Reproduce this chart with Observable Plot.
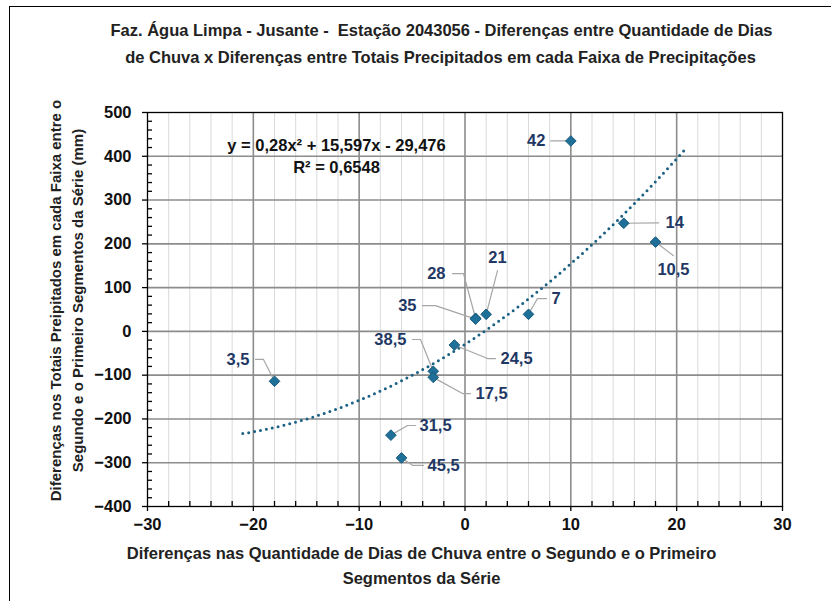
<!DOCTYPE html>
<html><head><meta charset="utf-8">
<script src="https://cdn.jsdelivr.net/npm/d3@7"></script>
<script src="https://cdn.jsdelivr.net/npm/@observablehq/plot@0.6"></script>
<style>
html,body{margin:0;padding:0;background:#fff;overflow:hidden;width:831px;height:601px}
#wrap{position:relative;width:831px;height:601px;overflow:hidden}
#border{position:absolute;left:9px;top:6px;width:900px;height:700px;border:1.5px solid #000;box-sizing:border-box}
#chart{position:absolute;left:0;top:0}
</style></head><body><div id="wrap"><div id="border"></div><div id="chart"></div></div>
<script>
// ---- data ----
const xDiff  = [10, 15, 18, 6, 2, 1, 1, -1, -3, -3, -18, -7, -6];
const yDiff  = [435, 247, 204, 39, 39, 30, 28, -31, -91, -105, -114, -237, -289];
const labels = ["42", "14", "10,5", "7", "21", "28", "35", "24,5", "38,5", "17,5", "3,5", "31,5", "45,5"];
// label placement (data units) and leader bends
const labelX = [7.6, 18.95, 19.7, 8.17, 3.07, -1.84, -4.58, 3.35, -5.53, 0.99, -20.36, -4.3, -3.54];
const labelY = [436, 249, 141, 75, 169, 132, 59, -62, -18.5, -142, -64, -215, -306];
const labelAnchor = ["end", "start", "middle", "start", "middle", "end", "end", "start", "end", "start", "end", "start", "start"];
const leaderBends = [
  [[8.1, 435]],
  [[18.3, 248]],
  [[19.7, 173]],
  [[7.7, 75], [6.85, 75]],
  [[3.07, 139]],
  [[-1.18, 132], [-0.14, 132]],
  [[-4.02, 59], [-2.79, 59]],
  [[2.88, -62], [2.13, -62]],
  [[-4.96, -18.5], [-4.2, -18.5]],
  [[0.52, -142], [-0.24, -142]],
  [[-19.8, -64], [-19.04, -64]],
  [[-4.68, -215], [-5.43, -215]],
  [[-3.92, -306], [-4.96, -306]]
];
// trendline (Excel polynomial order 2), as printed on the chart
const trendCoef = [0.28, 15.597, -29.476];
const trendRange = [-21, 20.8];
const xTicks = [-30, -20, -10, 0, 10, 20, 30];
const yTicks = [-400, -300, -200, -100, 0, 100, 200, 300, 400, 500];
const titleLines = ["Faz. Água Limpa - Jusante -  Estação 2043056 - Diferenças entre Quantidade de Dias",
                    "de Chuva x Diferenças entre Totais Precipitados em cada Faixa de Precipitações"];
const xTitleLines = ["Diferenças nas Quantidade de Dias de Chuva entre o Segundo e o Primeiro", "Segmentos da Série"];
const yTitleLines = ["Diferenças nos Totais Preipitados em cada Faixa entre o", "Segundo e o Primeiro Segmentos da Série (mm)"];
const eqLines = ["y = 0,28x² + 15,597x - 29,476", "R² = 0,6548"];

// ---- derived tables ----
const pts = xDiff.map((x, i) => ({x, y: yDiff[i], label: labels[i], lx: labelX[i], ly: labelY[i], anchor: labelAnchor[i]}));
const leaders = [];
pts.forEach((p, i) => {
  leaderBends[i].forEach(([x, y]) => leaders.push({x, y, k: i}));
  leaders.push({x: p.x, y: p.y, k: i});
});
const trend = d3.range(trendRange[0], trendRange[1] + 1e-9, 0.1).map(x => ({x, y: trendCoef[0]*x*x + trendCoef[1]*x + trendCoef[2]}));
const xMinor = d3.range(-30, 31, 2).filter(v => v % 10 !== 0);
const xMajorInner = xTicks.filter(v => v > -30 && v < 30);
const yMinor = d3.range(-400, 501, 20).filter(v => v % 100 !== 0);
const yMajorInner = yTicks.filter(v => v > -400 && v < 500);

const FONT = "Liberation Sans, Arial, sans-serif";
const navy = "#1f3864";
const FS = 16.5;

const labelMarks = ["start", "middle", "end"].map(a =>
  Plot.text(pts, {filter: d => d.anchor === a, x: "lx", y: "ly", text: "label", textAnchor: a, lineAnchor: "middle", fill: navy, fontSize: FS, fontWeight: "bold"})
);

const chart = Plot.plot({
  width: 831, height: 601,
  marginLeft: 147, marginRight: 49, marginTop: 112, marginBottom: 95,
  style: {fontFamily: FONT, fontSize: FS + "px", background: "transparent", overflow: "visible"},
  x: {domain: [-30, 30], axis: null},
  y: {domain: [-400, 500], axis: null},
  marks: [
    Plot.ruleX(xMinor, {stroke: "#d9d9d9", strokeWidth: 1}),
    Plot.ruleX(xMajorInner, {stroke: "#8c8c8c", strokeWidth: 1.6}),
    Plot.ruleY(yMajorInner, {stroke: "#8c8c8c", strokeWidth: 1.6}),
    Plot.frame({stroke: "#000", strokeWidth: 1.3}),
    Plot.axisX({ticks: xTicks, tickSize: 5, tickPadding: 7, fontSize: FS, fontWeight: "bold", fill: "#111", strokeWidth: 1.3}),
    Plot.axisX({ticks: xMinor, tickSize: -5, tickFormat: () => "", strokeWidth: 1.3}),
    Plot.axisY({ticks: yTicks, tickSize: 5, tickPadding: 11, fontSize: FS, fontWeight: "bold", fill: "#111", strokeWidth: 1.3}),
    Plot.axisY({ticks: yMinor, tickSize: -5, tickFormat: () => "", strokeWidth: 1.3}),
    Plot.line(trend, {x: "x", y: "y", stroke: "#1b6184", strokeWidth: 3, strokeDasharray: "0,6", strokeLinecap: "round"}),
    Plot.line(leaders, {x: "x", y: "y", z: "k", stroke: "#a6a6a6", strokeWidth: 1.2}),
    Plot.dot(pts, {x: "x", y: "y", symbol: "diamond2", r: 4.8, fill: "#1f7099", stroke: "#175a7c", strokeWidth: 1}),
    ...labelMarks,
    // equation
    Plot.text([eqLines[0]], {frameAnchor: "top-left", dx: 189, dy: 33, textAnchor: "middle", lineAnchor: "middle", fontSize: FS, fontWeight: "bold", fill: "#111"}),
    Plot.text([eqLines[1]], {frameAnchor: "top-left", dx: 189, dy: 55, textAnchor: "middle", lineAnchor: "middle", fontSize: FS, fontWeight: "bold", fill: "#111"}),
    // title
    Plot.text([titleLines[0]], {frameAnchor: "top-left", dx: 294, dy: -82, textAnchor: "middle", lineAnchor: "middle", fontSize: FS, fontWeight: "bold", fill: "#222"}),
    Plot.text([titleLines[1]], {frameAnchor: "top-left", dx: 293, dy: -55, textAnchor: "middle", lineAnchor: "middle", fontSize: FS, fontWeight: "bold", fill: "#222"}),
    // x title
    Plot.text([xTitleLines[0]], {frameAnchor: "top-left", dx: 274, dy: 441, textAnchor: "middle", lineAnchor: "middle", fontSize: FS, fontWeight: "bold", fill: "#222"}),
    Plot.text([xTitleLines[1]], {frameAnchor: "top-left", dx: 274, dy: 466, textAnchor: "middle", lineAnchor: "middle", fontSize: FS, fontWeight: "bold", fill: "#222"}),
    // y title
    Plot.text([yTitleLines[0]], {frameAnchor: "top-left", dx: -91, dy: 188, rotate: -90, textAnchor: "middle", lineAnchor: "middle", fontSize: 15, fontWeight: "bold", fill: "#222"}),
    Plot.text([yTitleLines[1]], {frameAnchor: "top-left", dx: -69, dy: 188, rotate: -90, textAnchor: "middle", lineAnchor: "middle", fontSize: 15, fontWeight: "bold", fill: "#222"})
  ]
});
document.getElementById("chart").appendChild(chart);
</script>
</body></html>
